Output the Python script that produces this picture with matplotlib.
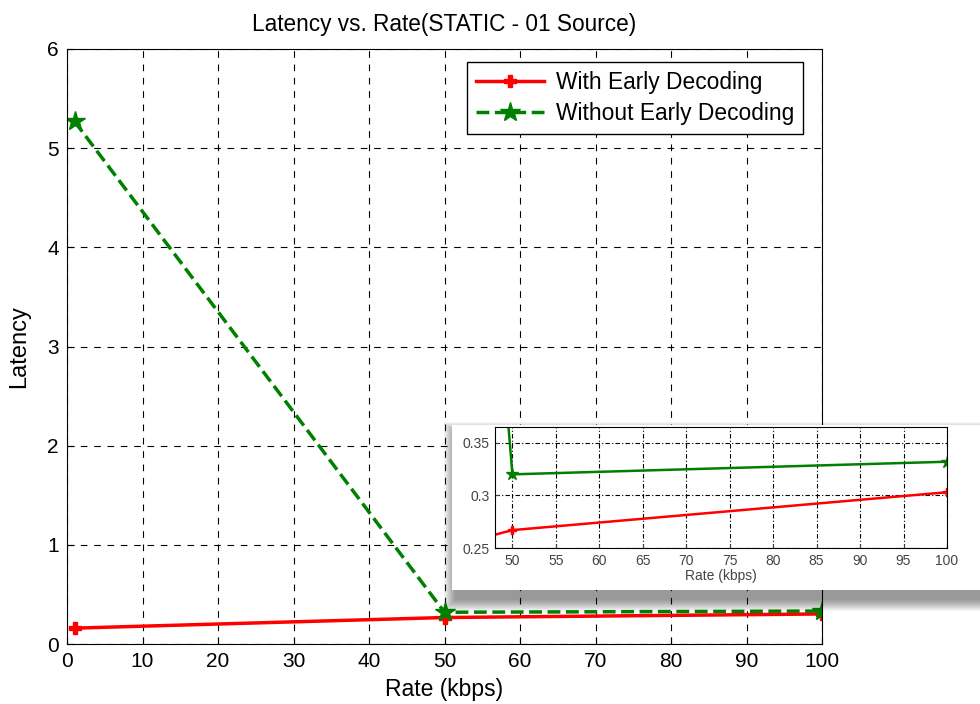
import matplotlib.pyplot as plt
import matplotlib.patches as mpatches

plt.rcParams['font.family'] = ['Liberation Sans', 'DejaVu Sans']

# data
rate = [1, 50, 100]
with_early = [0.16, 0.267, 0.303]
without_early = [5.27, 0.32, 0.332]

W, H = 980, 704
fig = plt.figure(figsize=(9.8, 7.04), dpi=100)
ax = fig.add_axes([67 / W, 1 - 644 / H, 755 / W, 595 / H])

ax.plot(rate, with_early, color='red', lw=2.5, marker='P', ms=8, mec='red', mfc='red',
        label='With Early Decoding')
ax.plot(rate, without_early, color='green', lw=2.5, ls='--', marker='*', ms=15,
        mec='green', mfc='green', label='Without Early Decoding')
ax.set_xlim(0, 100)
ax.set_ylim(0, 6)
ax.set_xticks(range(0, 101, 10))
ax.set_yticks(range(0, 7))
ax.tick_params(direction='in', labelsize=15, length=5, pad=6)
ax.grid(True, color='black', ls=(0, (6, 6)), lw=0.8)
ax.set_xlabel('Rate (kbps)', fontsize=16.5, labelpad=5)
ax.set_ylabel('Latency', fontsize=17, labelpad=12)
ax.set_title('Latency vs. Rate(STATIC - 01 Source)', fontsize=16.3, pad=13)
leg = ax.legend(loc='upper right', bbox_to_anchor=(803 / W, 1 - 62 / H),
                bbox_transform=fig.transFigure, borderaxespad=0,
                fontsize=16.4, fancybox=False, framealpha=1, edgecolor='black',
                handlelength=3.0, borderpad=0.4, labelspacing=0.35, handletextpad=0.5)
leg.get_frame().set_linewidth(1.0)

# inset white card with a soft shadow
x0, y0, bw, bh = 452, 425, 528, 165
for i in range(12):
    grow = 12 - i
    sh = mpatches.Rectangle(((x0 + 4 - grow) / W, 1 - (y0 + bh + 9 + grow) / H),
                            (bw + 2 * grow) / W, (bh + 2 * grow) / H,
                            transform=fig.transFigure, facecolor='black', edgecolor='none',
                            alpha=0.04, zorder=5, clip_on=False)
    ax.add_patch(sh)
card = mpatches.Rectangle((x0 / W, 1 - (y0 + bh) / H), bw / W, bh / H,
                          transform=fig.transFigure, facecolor='white', edgecolor='none',
                          zorder=6, clip_on=False)
ax.add_patch(card)

ins = fig.add_axes([495 / W, 1 - 548 / H, 452 / W, 121 / H], zorder=6)
ins.plot(rate, with_early, color='red', lw=1.8, marker='P', ms=6, mec='red', mfc='red')
ins.plot(rate, without_early, color='green', lw=1.8, marker='*', ms=9, mec='green', mfc='green')
ins.set_xlim(48, 100)
ins.set_ylim(0.25, 0.365)
ins.set_xticks(range(50, 101, 5))
ins.set_yticks([0.25, 0.3, 0.35])
ins.set_yticklabels(['0.25', '0.3', '0.35'])
ins.tick_params(direction='in', labelsize=10, length=3, colors='#444444', pad=4)
ins.grid(True, color='black', ls=(0, (4, 2, 1, 2)), lw=0.8)
ins.set_xlabel('Rate (kbps)', fontsize=10, labelpad=1, color='#444444')

fig.savefig('out.png', dpi=100)
